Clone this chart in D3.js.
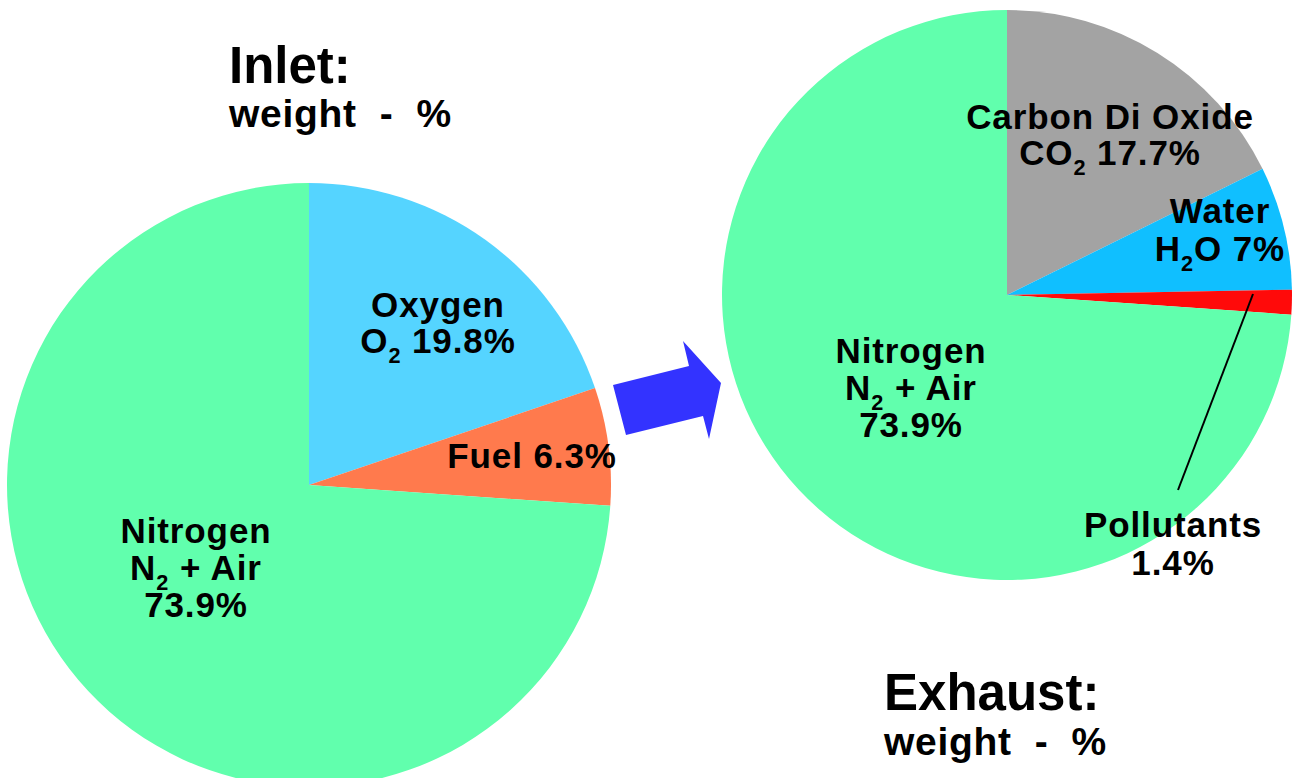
<!DOCTYPE html>
<html><head><meta charset="utf-8">
<script src="https://cdn.jsdelivr.net/npm/d3@7"></script>
<style>body{margin:0;background:#fff;overflow:hidden}svg{display:block}text{font-family:"Liberation Sans",Arial,sans-serif;font-weight:bold;fill:#000}</style>
</head><body>
<svg id="c" width="1295" height="778"></svg>
<script>
const inletCategories = ["Oxygen", "Fuel", "Nitrogen"];
const inletValues = [19.8, 6.3, 73.9];
const inletColors = ["#55d4ff", "#ff7a4d", "#61ffad"];

const exhaustCategories = ["Carbon Di Oxide", "Water", "Pollutants", "Nitrogen"];
const exhaustValues = [17.7, 7, 1.4, 73.9];
const exhaustColors = ["#a3a3a3", "#10bfff", "#ff0a0a", "#61ffad"];

const svg = d3.select("#c");
const pie = d3.pie().sort(null).value(d => d.v);

function drawPie(cx, cy, r, cats, vals, cols) {
  const data = cats.map((c, i) => ({c, v: vals[i], col: cols[i]}));
  const arc = d3.arc().innerRadius(0).outerRadius(r);
  const g = svg.append("g").attr("transform", `translate(${cx},${cy})`);
  g.selectAll("path").data(pie(data)).join("path")
    .attr("d", arc).attr("fill", d => d.data.col);
  return {g, arcs: pie(data), r};
}

function label(x, y, lines, fs, lh) {
  const t = svg.append("text").attr("text-anchor", "middle").attr("font-size", fs)
    .attr("letter-spacing", 0.9);
  lines.forEach((parts, i) => {
    const first = t.append("tspan").attr("x", x).attr("y", y + i * lh);
    let firstUsed = false;
    parts.forEach(p => {
      const s = (typeof p === "string") ? {t: p} : p;
      let ts;
      if (!firstUsed) { ts = first; firstUsed = true; } else ts = t.append("tspan");
      if (s.sub) {
        ts.text(s.t).attr("font-size", fs * 0.62).attr("dy", fs * 0.28);
      } else if (s.after) {
        ts.text(s.t).attr("dy", -fs * 0.28);
      } else ts.text(s.t);
    });
  });
  return t;
}

drawPie(309, 485, 302, inletCategories, inletValues, inletColors);
drawPie(1007, 295, 285, exhaustCategories, exhaustValues, exhaustColors);

const arrowPts = [[613,385],[689,366],[683,341],[721,383],[709,439],[703,416],[626,435]];
svg.append("path").attr("d", d3.line()(arrowPts) + "Z").attr("fill", "#3333ff");

svg.append("line").attr("x1", 1253).attr("y1", 294).attr("x2", 1178).attr("y2", 490)
  .attr("stroke", "#000").attr("stroke-width", 2);

const fs = 35;
label(438, 317, [["Oxygen"], ["O", {t:"2", sub:true}, {t:" 19.8%", after:true}]], fs, 36);
label(532, 468, [["Fuel 6.3%"]], fs, 36);
label(196, 543, [["Nitrogen"], ["N", {t:"2", sub:true}, {t:" + Air", after:true}], ["73.9%"]], fs, 37);

label(1110, 129, [["Carbon Di Oxide"], ["CO", {t:"2", sub:true}, {t:" 17.7%", after:true}]], fs, 36);
label(1220, 223, [["Water"], ["H", {t:"2", sub:true}, {t:"O 7%", after:true}]], fs, 38);
label(911, 363, [["Nitrogen"], ["N", {t:"2", sub:true}, {t:" + Air", after:true}], ["73.9%"]], fs, 37);
label(1173, 537, [["Pollutants"], ["1.4%"]], fs, 38);

svg.append("text").attr("x", 229).attr("y", 83).attr("font-size", 51).text("Inlet:");
svg.append("text").attr("x", 229).attr("y", 127).attr("font-size", 39).attr("letter-spacing", 0.7).attr("xml:space","preserve").text("weight  -  %");
svg.append("text").attr("x", 884).attr("y", 710).attr("font-size", 51).text("Exhaust:");
svg.append("text").attr("x", 884).attr("y", 755).attr("font-size", 39).attr("letter-spacing", 0.7).attr("xml:space","preserve").text("weight  -  %");
</script>
</body></html>
